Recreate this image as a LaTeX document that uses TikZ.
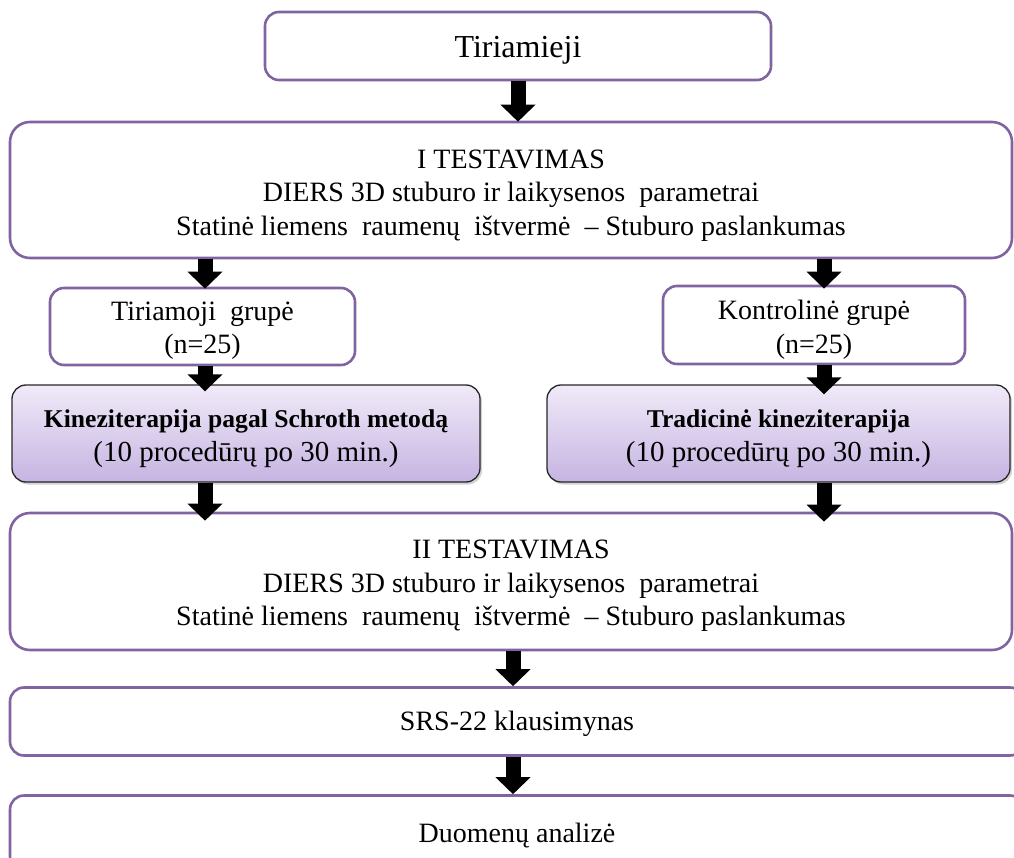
\documentclass[tikz,border=0pt]{standalone}
\usepackage{fontspec}
\setmainfont{Liberation Serif}
\usetikzlibrary{arrows.meta,shadows}
\definecolor{pborder}{HTML}{8064A2}
\definecolor{gtop}{HTML}{F0EAF8}
\definecolor{gbot}{HTML}{C6B4E2}
\begin{document}
\begin{tikzpicture}[x=1pt,y=-1pt,
  pbox/.style={draw=pborder, line width=2.6pt, rounded corners=14pt, fill=white,
    inner sep=0pt, align=center, font=\fontsize{28}{33.5}\selectfont},
  gbox/.style={draw=black!85, line width=1.3pt, rounded corners=14pt,
    top color=gtop, bottom color=gbot, inner sep=0pt, align=center,
    drop shadow={shadow xshift=2pt, shadow yshift=-2.5pt, opacity=0.35},
    font=\fontsize{29}{34}\selectfont},
  blk/.style={line width=15pt, -{Triangle[width=34pt,length=17pt]}},
]
\useasboundingbox (0,0) rectangle (1014,858);
\clip (0,0) rectangle (1014,858);

\node[pbox, minimum width=506pt, minimum height=68pt, font=\fontsize{32}{34}\selectfont, text height=30pt] (tir) at (518,46) {Tiriamieji};
\node[pbox, minimum width=1002pt, minimum height=136pt, rounded corners=20pt, text height=96.5pt] (itest) at (511,190)
  {I TESTAVIMAS\\DIERS 3D stuburo ir laikysenos\ \ parametrai\\Statinė liemens\ \ raumenų\ \ ištvermė\ \ –\ Stuburo paslankumas};
\node[pbox, minimum width=305pt, minimum height=77pt, text height=60.6pt] (tg) at (202.5,326.5) {Tiriamoji\ \ grupė\\(n=25)};
\node[pbox, minimum width=302pt, minimum height=78pt, text height=62.6pt] (kg) at (814,325) {Kontrolinė grupė\\(n=25)};
\node[gbox, minimum width=468pt, minimum height=97pt, text height=61.5pt] (sch) at (246,433.5) {{\bfseries\fontsize{25.6}{30}\selectfont Kineziterapija pagal Schroth metodą}\\(10 procedūrų po 30 min.)};
\node[gbox, minimum width=463pt, minimum height=97pt, text height=61.5pt] (trad) at (778.5,433.5) {{\bfseries\fontsize{25.6}{30}\selectfont Tradicinė kineziterapija}\\(10 procedūrų po 30 min.)};
\node[pbox, minimum width=1002pt, minimum height=137pt, rounded corners=20pt, text height=94.5pt] (iitest) at (511,581.5)
  {II TESTAVIMAS\\DIERS 3D stuburo ir laikysenos\ \ parametrai\\Statinė liemens\ \ raumenų\ \ ištvermė\ \ –\ Stuburo paslankumas};
\node[pbox, minimum width=1014pt, minimum height=68pt, text height=25pt] (srs) at (517,721.5) {SRS-22 klausimynas};
\node[pbox, minimum width=1014pt, minimum height=75pt, text height=25pt] (duo) at (517,833) {Duomenų analizė};

\draw[blk] (tir.south -| 518,0) -- ([yshift=-1pt]itest.north -| 518,0);
\draw[blk] (itest.south -| 205,0) -- ([yshift=-2pt]tg.north -| 205,0);
\draw[blk] (itest.south -| 824,0) -- ([yshift=-4pt]kg.north -| 824,0);
\draw[blk] (tg.south -| 205,0) -- ([yshift=-7pt]sch.north -| 205,0);
\draw[blk] (kg.south -| 824,0) -- ([yshift=-10pt]trad.north -| 824,0);
\draw[blk] (sch.south -| 205,0) -- ([yshift=-9pt]iitest.north -| 205,0);
\draw[blk] (trad.south -| 824,0) -- ([yshift=-10pt]iitest.north -| 824,0);
\draw[blk] (iitest.south -| 513,0) -- ([yshift=0pt]srs.north -| 513,0);
\draw[blk] (srs.south -| 513,0) -- ([yshift=0pt]duo.north -| 513,0);
\end{tikzpicture}
\end{document}
